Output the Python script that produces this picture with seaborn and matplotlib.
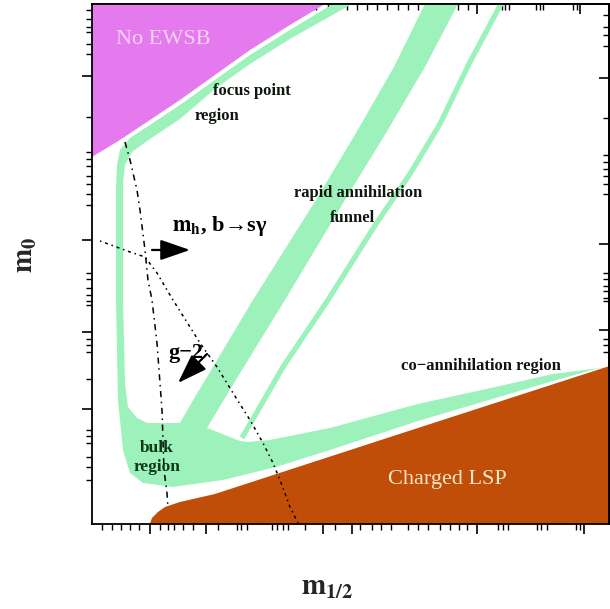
import matplotlib
matplotlib.use('Agg')
import matplotlib.pyplot as plt
import seaborn as sns

# Schematic units: x (m_1/2) 0..517, y (m_0) 0..520
ewsb_x = [-10, 250, 233, 198, 158, 123, 88, 58, 28, 0, -10]
ewsb_y = [530, 530, 520, 499, 474, 449, 424, 404, 384, 367, 362]

lsp_x = [56, 60, 66, 73, 88, 123, 326, 530, 530]
lsp_y = [-5, 6, 12, 17, 22, 30, 96, 162, -5]

# allowed (relic density) region: focus point + bulk + funnel + co-annihilation
green_x = [258, 241, 198, 158, 123, 88, 58, 38, 28, 25, 24, 24, 26, 31, 38, 51, 81, 131, 184, 238, 326, 461, 508,
           461, 408, 326, 238, 178, 156, 148,
           115, 142, 193, 253, 294, 333, 366, 371,
           338, 333, 302, 264, 224, 161, 121, 103, 88,
           55, 45, 36, 33, 31, 31, 33, 40, 58, 88, 123, 158, 198, 260, 278]
green_y = [530, 520, 494, 469, 444, 419, 399, 386, 374, 359, 334, 224, 124, 74, 51, 41, 37, 44, 57, 74, 103, 143, 156,
           150, 138, 120, 96, 84, 82, 83,
           96, 141, 224, 324, 391, 457, 520, 530,
           530, 520, 457, 391, 324, 224, 157, 127, 101,
           101, 106, 117, 141, 224, 341, 359, 372, 385, 405, 435, 460, 485, 520, 530]

thin_x = [410, 377, 348, 318, 284, 236, 191, 150]
thin_y = [522, 460, 400, 350, 300, 224, 157, 86]

mh_x = [33, 38, 45, 48, 53, 56, 60, 65, 68, 70, 72, 75, 76]
mh_y = [382, 364, 334, 314, 274, 244, 224, 181, 141, 114, 54, 31, 16]

g2_x = [8, 38, 53, 65, 81, 98, 108, 125, 141, 158, 171, 181, 188, 198, 206]
g2_y = [283, 272, 267, 251, 224, 197, 181, 157, 131, 104, 81, 61, 44, 17, 1]

bottom_major = [58, 114, 231, 260, 385, 492]
bottom_minor = [10, 20, 29, 38, 47, 68, 76, 82, 91, 101, 126, 145, 149, 155, 180, 185, 191, 196, 213, 243,
                268, 280, 289, 299, 316, 326, 336, 348, 358, 367, 375, 406, 411, 416, 445, 449, 455, 484, 488]
left_major = [448, 284, 192, 115]
left_minor = [514, 505, 497, 492, 480, 470, 407, 372, 365, 358, 348, 340, 330, 319, 251, 245, 236, 229, 223,
              219, 185, 179, 172, 145, 94, 88, 81, 67, 57, 44]
top_major = [61, 385, 488]
top_minor = [10, 20, 32, 42, 69, 78, 89, 99, 121, 144, 147, 150, 172, 177, 182, 208, 218, 221, 224, 236, 245,
             255, 265, 275, 285, 295, 306, 316, 326, 336, 346, 356, 366, 376, 410, 413, 417, 444, 448, 451, 481, 485]
right_major = [446, 280, 194]
right_minor = [509, 497, 489, 478, 406, 369, 362, 355, 348, 340, 330, 251, 245, 238, 233, 226, 223, 185, 179,
               172, 145, 115, 94, 88, 81, 67, 57, 44]

sns.set_theme(style='white')
plt.rcParams['font.family'] = ['Liberation Serif', 'DejaVu Serif']
plt.rcParams['mathtext.fontset'] = 'stix'

MAG = '#E47AEE'
GRN = '#9CF2BA'
BRN = '#C04E08'

fig = plt.figure(figsize=(6.10, 6.09), dpi=100)
ax = fig.add_axes([0.1508, 0.1396, 0.8475, 0.8539])
ax.set_xlim(0, 517)
ax.set_ylim(0, 520)

ax.fill(ewsb_x, ewsb_y, color=MAG, lw=0, zorder=1)
ax.fill(green_x, green_y, color=GRN, lw=0, zorder=1)
sns.lineplot(x=thin_x, y=thin_y, sort=False, estimator=None, color=GRN, lw=3.8, ax=ax, zorder=1,
             solid_capstyle='butt', solid_joinstyle='round')
ax.fill(lsp_x, lsp_y, color=BRN, lw=0, zorder=2)

sns.lineplot(x=mh_x, y=mh_y, sort=False, estimator=None, color='black', lw=1.1, ax=ax, zorder=3,
             linestyle=(0, (4, 3, 1, 3)))
sns.lineplot(x=g2_x, y=g2_y, sort=False, estimator=None, color='black', lw=1.1, ax=ax, zorder=3,
             linestyle=(0, (1, 2.5, 2, 2.5)))

ax.annotate('', xy=(98, 274), xytext=(60, 274),
            arrowprops=dict(arrowstyle='-|>,head_length=1.3,head_width=0.45', color='black', lw=1.6,
                            mutation_scale=14, shrinkA=0, shrinkB=0), zorder=4)
ax.annotate('', xy=(86, 141), xytext=(115, 170),
            arrowprops=dict(arrowstyle='-|>,head_length=1.3,head_width=0.45', color='black', lw=1.6,
                            mutation_scale=14, shrinkA=0, shrinkB=0), zorder=4)

dark = '#0E160E'
ax.text(71, 484, 'No EWSB', color='#F6D2F6', fontsize=16, ha='center', va='center', zorder=5)
ax.text(121, 433, 'focus point', color=dark, fontsize=12, fontweight='bold', ha='left', va='center', zorder=5)
ax.text(103, 408, 'region', color=dark, fontsize=12, fontweight='bold', ha='left', va='center', zorder=5)
ax.text(266, 331, 'rapid annihilation', color=dark, fontsize=12, fontweight='bold', ha='center', va='center', zorder=5)
ax.text(261, 306, 'funnel', color=dark, fontsize=12, fontweight='bold', ha='center', va='center', zorder=5)
ax.text(80, 298, r'$\mathbf{m_h}$, b→sγ', color='black', fontsize=16, fontweight='bold', ha='left', va='center', zorder=5)
ax.text(94, 171, 'g−2', color='black', fontsize=16, fontweight='bold', ha='center', va='center', zorder=5)
ax.text(65, 76, 'bulk', color='#0E3A1A', fontsize=12.5, fontweight='bold', ha='center', va='center', zorder=5)
ax.text(65, 57, 'region', color='#0E3A1A', fontsize=12.5, fontweight='bold', ha='center', va='center', zorder=5)
ax.text(389, 158, 'co−annihilation region', color=dark, fontsize=12, fontweight='bold', ha='center', va='center', zorder=5)
ax.text(355, 44, 'Charged LSP', color='#FBE6C6', fontsize=16, ha='center', va='center', zorder=5)

for s in ax.spines.values():
    s.set_color('black')
    s.set_linewidth(1.3)
    s.set_visible(True)

ax.set_xticks(bottom_major)
ax.set_xticks(bottom_minor, minor=True)
ax.set_yticks(left_major)
ax.set_yticks(left_minor, minor=True)
ax.tick_params(axis='both', which='major', direction='out', length=7, width=1.2, color='black',
               labelbottom=False, labelleft=False, bottom=True, left=True)
ax.tick_params(axis='both', which='minor', direction='out', length=4, width=1.0, color='black',
               bottom=True, left=True)

secx = ax.secondary_xaxis('top')
secx.set_xticks(top_major)
secx.set_xticks(top_minor, minor=True)
secx.tick_params(which='major', direction='in', length=7, width=1.2, color='black', labeltop=False)
secx.tick_params(which='minor', direction='in', length=4, width=1.0, color='black')
secy = ax.secondary_yaxis('right')
secy.set_yticks(right_major)
secy.set_yticks(right_minor, minor=True)
secy.tick_params(which='major', direction='in', length=7, width=1.2, color='black', labelright=False)
secy.tick_params(which='minor', direction='in', length=4, width=1.0, color='black')
for sec in (secx, secy):
    for s in sec.spines.values():
        s.set_color('black')
        s.set_linewidth(1.3)

fig.text(0.043, 0.581, r'$\mathbf{m_0}$', rotation=90, fontsize=21, ha='center', va='center')
fig.text(0.536, 0.036, r'$\mathbf{m_{1/2}}$', fontsize=21, ha='center', va='center')

fig.savefig('out.png', dpi=100, facecolor='white')
